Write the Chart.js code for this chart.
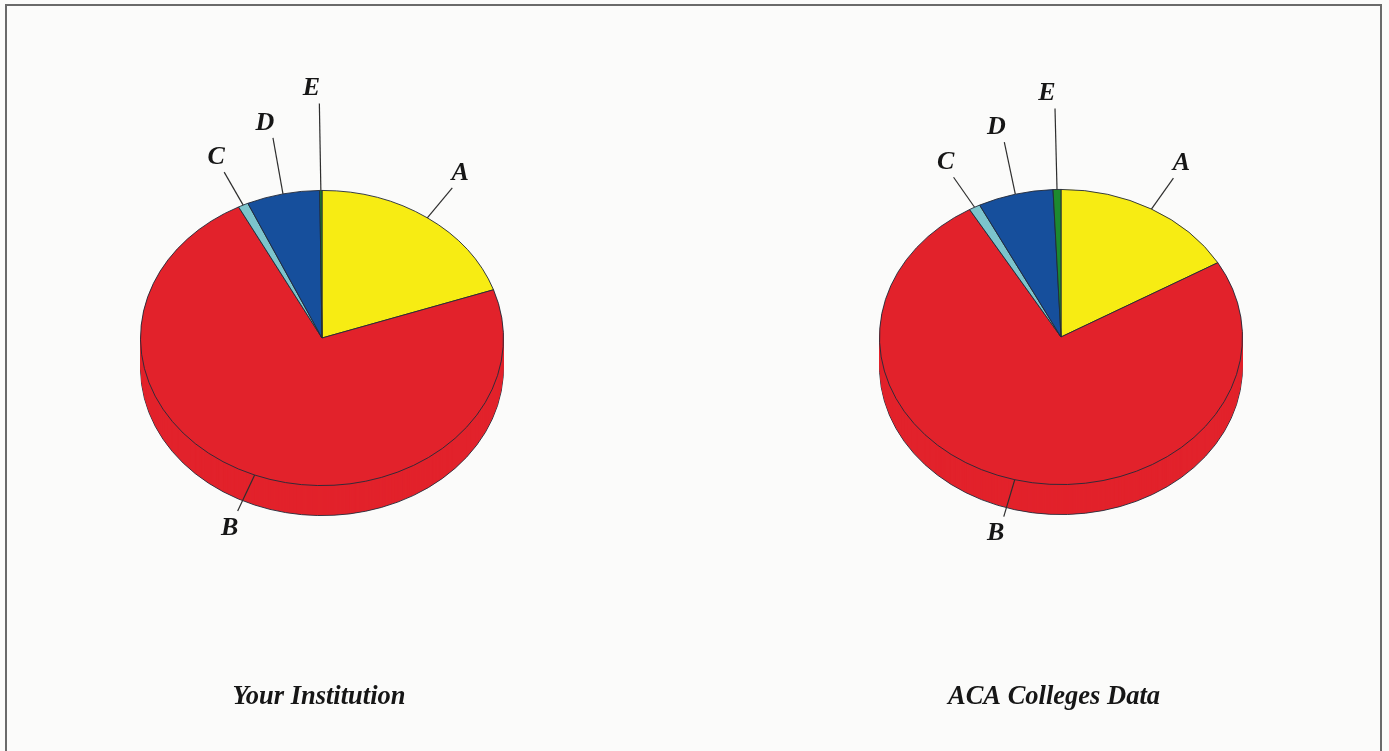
<!DOCTYPE html>
<html>
<head>
<meta charset="utf-8">
<title>Your Institution / ACA Colleges Data</title>
<script src="https://cdn.jsdelivr.net/npm/chart.js@4"></script>
<style>
  html, body { margin: 0; height: 100%; overflow: hidden; background: #fbfbfa; }
  #frame { position: absolute; left: 5px; top: 4px; width: 1373px; height: 800px; border: 2px solid #6a6a6a; }
  canvas { position: absolute; top: 0; }
  #leftPie { left: 0; }
  #rightPie { left: 700px; }
</style>
</head>
<body>
<div id="frame"></div>
<canvas id="leftPie" width="689" height="751"></canvas>
<canvas id="rightPie" width="689" height="751"></canvas>
<script>
// Chart data
const categories = ['A', 'B', 'C', 'D', 'E'];
const yourInstitution = [19.7, 72.7, 0.9, 6.5, 0.2];
const acaColleges = [16.6, 75.0, 1.0, 6.7, 0.7];
const sliceColors = ['#f7ec13', '#e2222b', '#7cc4cc', '#164f9c', '#1d8a2e'];

// Pie geometry
const radius = 182;
const tilt = 0.813;
const depth = 30;

// Where each leader line ends, measured from its point on the rim
const leftLeaders = [[25, -30], [-17, 36], [-19, -33], [-10, -56], [-1.5, -87]];
const rightLeaders = [[22, -31], [-11, 37], [-21, -30], [-11, -52], [-2, -81]];

const labelFont = 'italic bold 26px "Liberation Serif"';
const titleFont = 'italic bold 26.5px "Liberation Serif"';

// Squash the pie into an ellipse and stack copies of it for the side wall
const tiltPlugin = {
    id: 'tilt',
    beforeDatasetsDraw(chart) {
        const ctx = chart.ctx;
        const arcs = chart.getDatasetMeta(0).data;
        const cx = arcs[0].x;
        const cy = arcs[0].y;

        for (let d = depth; d > 0; d--) {
            ctx.save();
            ctx.translate(cx, cy + d);
            ctx.scale(1, tilt);
            ctx.translate(-cx, -cy);
            arcs.forEach(arc => {
                const width = arc.options.borderWidth;
                if (d < depth) arc.options.borderWidth = 0;
                arc.draw(ctx);
                arc.options.borderWidth = width;
            });
            ctx.restore();
        }

        ctx.save();
        ctx.translate(cx, cy);
        ctx.scale(1, tilt);
        ctx.translate(-cx, -cy);
    },
    afterDatasetsDraw(chart) {
        chart.ctx.restore();
    }
};

// Leader lines, slice letters and the caption under the pie
const labelPlugin = {
    id: 'sliceLabels',
    afterDraw(chart, args, opts) {
        const ctx = chart.ctx;
        const arcs = chart.getDatasetMeta(0).data;
        const cx = arcs[0].x;
        const cy = arcs[0].y;

        ctx.save();
        ctx.textAlign = 'center';
        ctx.textBaseline = 'middle';
        arcs.forEach((arc, i) => {
            const mid = (arc.startAngle + arc.endAngle) / 2;
            const x0 = cx + Math.cos(mid) * arc.outerRadius;
            const y0 = cy + Math.sin(mid) * arc.outerRadius * tilt;
            const x1 = x0 + opts.leaders[i][0];
            const y1 = y0 + opts.leaders[i][1];

            ctx.strokeStyle = '#2e2e2e';
            ctx.lineWidth = 1.2;
            ctx.beginPath();
            ctx.moveTo(x0, y0);
            ctx.lineTo(x1, y1);
            ctx.stroke();

            ctx.fillStyle = '#161616';
            ctx.font = labelFont;
            ctx.fillText(categories[i], x1 + (x0 > cx ? 8 : -8), y1 + (y0 > cy ? 17 : -15));
        });

        ctx.font = titleFont;
        ctx.fillStyle = '#161616';
        ctx.fillText(opts.caption, cx + opts.captionShift, 697);
        ctx.restore();
    }
};

function drawPie(canvasId, values, caption, centerX, centerY, leaders, captionShift) {
    const canvas = document.getElementById(canvasId);
    return new Chart(canvas, {
        type: 'pie',
        data: {
            labels: categories,
            datasets: [{
                data: values,
                backgroundColor: sliceColors,
                borderColor: '#232a38',
                borderWidth: 1
            }]
        },
        options: {
            responsive: false,
            animation: false,
            events: [],
            layout: {
                padding: {
                    left: centerX - radius,
                    right: canvas.width - centerX - radius,
                    top: centerY - radius,
                    bottom: canvas.height - centerY - radius
                }
            },
            plugins: {
                legend: { display: false },
                tooltip: { enabled: false },
                sliceLabels: { leaders: leaders, caption: caption, captionShift: captionShift }
            }
        },
        plugins: [tiltPlugin, labelPlugin]
    });
}

drawPie('leftPie', yourInstitution, 'Your Institution', 322, 338, leftLeaders, -3);
drawPie('rightPie', acaColleges, 'ACA Colleges Data', 361, 337, rightLeaders, -7);
</script>
</body>
</html>
